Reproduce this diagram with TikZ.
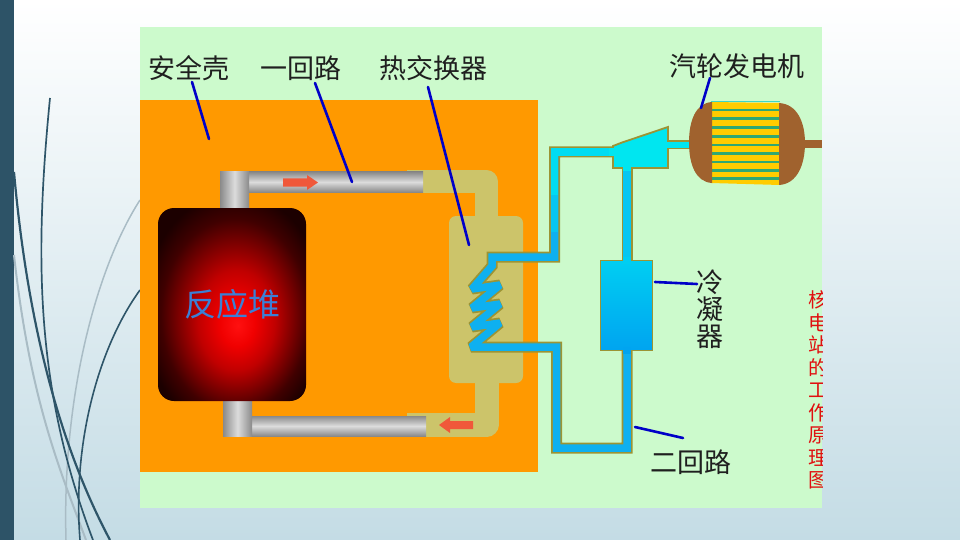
\documentclass[tikz,border=0pt]{standalone}
\usepackage{fontspec}
\newfontfamily\cjk{Noto Sans CJK SC}
\definecolor{slidebar}{HTML}{2D5367}
\definecolor{slidebot}{HTML}{C4DCE5}
\definecolor{curvedark}{HTML}{2E5569}
\definecolor{curvegray}{HTML}{A9BCC5}
\definecolor{bggreen}{HTML}{CCFACC}
\definecolor{shellorange}{HTML}{FF9900}
\definecolor{khaki}{HTML}{CCC46A}
\definecolor{pipeolive}{HTML}{9C9434}
\definecolor{pipeblue}{HTML}{0EB0F0}
\definecolor{pipemid}{HTML}{06C6F1}
\definecolor{pipecyan}{HTML}{00DCF2}
\definecolor{turbcyan}{HTML}{00E6F0}
\definecolor{condtop}{HTML}{00CEF2}
\definecolor{condbot}{HTML}{00A4F0}
\definecolor{greyedge}{HTML}{8A8A8A}
\definecolor{greymid}{HTML}{DCDCDC}
\definecolor{genbrown}{HTML}{A0622E}
\definecolor{genyellow}{HTML}{FFCC00}
\definecolor{genstripe}{HTML}{2FA873}
\definecolor{gentop}{HTML}{3CD6C8}
\definecolor{leader}{HTML}{0000C8}
\definecolor{arrowred}{HTML}{F0583A}
\definecolor{reacttext}{HTML}{3A80D6}
\definecolor{textred}{HTML}{E01010}
\definecolor{rcore}{HTML}{FF1010}
\definecolor{rhot}{HTML}{F00000}
\definecolor{rmid}{HTML}{C00000}
\definecolor{rdeep}{HTML}{800000}
\definecolor{rdark}{HTML}{400000}
\definecolor{rblack}{HTML}{1C0000}
\pgfdeclareradialshading{reactorshade}{\pgfpoint{2bp}{-5.5bp}}{color(0bp)=(rcore); color(6bp)=(rhot); color(13bp)=(rmid); color(19bp)=(rdeep); color(25bp)=(rdark); color(31bp)=(rblack); color(50bp)=(rblack)}
\tikzset{
  lbl/.style={font=\cjk\fontsize{27}{27}\selectfont, inner sep=0pt, text=black!88, align=center},
  redv/.style={font=\cjk\fontsize{20}{22.5}\selectfont, inner sep=0pt, text=textred, align=center},
  leaderline/.style={draw=leader, line width=2.6, line cap=round},
  pipeout/.style={draw=pipeolive, line width=11, miter limit=2},
  pipein/.style={line width=7.5, miter limit=2},
  reactor/.style={shade, shading=reactorshade, rounded corners=16, minimum width=148, minimum height=193, inner sep=0pt, text=reacttext, font=\cjk\fontsize{32}{32}\selectfont},
  condenser/.style={draw=pipeolive, line width=1.8, top color=condtop, bottom color=condbot, minimum width=52, minimum height=90, inner sep=0pt},
  greyh/.style={top color=greyedge, bottom color=greyedge, middle color=greymid},
  greyv/.style={left color=greyedge, right color=greyedge, middle color=greymid},
}
\begin{document}
\begin{tikzpicture}[x=1pt, y=-1pt, line join=miter]
\useasboundingbox (0,0) rectangle (960,540);
% slide background
\shade[top color=white, bottom color=slidebot] (0,0) rectangle (960,540);
\fill[slidebar] (0,0) rectangle (14,540);
\draw[curvegray, line width=1.5] (140,200) .. controls (95,270) and (62,400) .. (66,540);
\draw[curvegray, line width=2] (14,255) .. controls (30,400) and (60,470) .. (86,540);
\draw[curvedark, line width=2.2] (14,172) .. controls (28,330) and (62,450) .. (110,540);
\draw[curvedark, line width=1.7] (50,98) .. controls (34,260) and (36,390) .. (93,540);
\draw[curvedark, line width=1.6] (140,290) .. controls (100,345) and (72,440) .. (80,540);
% picture area
\fill[bggreen] (140,27) rectangle (822,508);
\fill[shellorange] (140,100) rectangle (538,472);
% heat exchanger casing
\draw[khaki, line width=23, line join=round] (407,181.5) -- (486.5,181.5) -- (486.5,225);
\draw[khaki, line width=24, line join=round] (407,424.5) -- (486.5,424.5) -- (486.5,375);
\fill[khaki, rounded corners=7] (449,216) rectangle (523,383);
% primary loop grey pipes
\shade[greyh] (245,172) rectangle (423,192);
\shade[greyv] (220,172) rectangle (249,212);
\shade[greyh] (248,416) rectangle (426,436);
\shade[greyv] (223,397) rectangle (252,436);
% reactor
\node[reactor] (reactor) at (232,304.5) {反应堆};
% flow arrows
\fill[arrowred] (283,178.5) -- (307,178.5) -- (307,175) -- (318,182.5) -- (307,190) -- (307,186.5) -- (283,186.5) -- cycle;
\fill[arrowred] (473,421) -- (450,421) -- (450,417) -- (439,425) -- (450,433) -- (450,429) -- (473,429) -- cycle;
% secondary loop: outer (olive) strokes
\draw[pipeout] (616,152) -- (554.5,152) -- (554.5,257) -- (492,257) -- (492,266) -- (472,289) -- (500,285) -- (472,308) -- (500,304) -- (472,327) -- (500,323) -- (471,347) -- (556.5,347) -- (556.5,448) -- (627,448) -- (627,349);
\draw[pipeout] (627,166) -- (627,262);
\draw[draw=pipeolive, line width=9] (666,145) -- (692,145);
% inner strokes
\draw[pipein, draw=pipeblue] (616,152) -- (554.5,152) -- (554.5,257) -- (492,257) -- (492,266) -- (472,289) -- (500,285) -- (472,308) -- (500,304) -- (472,327) -- (500,323) -- (471,347) -- (556.5,347) -- (556.5,448) -- (627,448) -- (627,349);
\draw[pipein, draw=pipecyan] (616,152) -- (554.5,152) -- (554.5,195);
\draw[pipein, draw=pipemid] (554.5,195) -- (554.5,232);
\draw[pipein, draw=pipemid] (627,166) -- (627,262);
\draw[draw=turbcyan, line width=5.5] (666,145) -- (692,145);
% turbine
\filldraw[fill=turbcyan, draw=pipeolive, line width=1.8] (613,146) -- (622,142.5) -- (668,127) -- (668,168) -- (613,168) -- cycle;
% condenser
\node[condenser] (cond) at (626.5,305.5) {};
% junction patches
\draw[draw=turbcyan, line width=7.5] (609,152) -- (617,152);
\draw[draw=turbcyan, line width=7.5] (627,163) -- (627,171);
\draw[draw=turbcyan, line width=5.5] (665,145) -- (671,145);
\draw[draw=condtop, line width=7.5] (627,257) -- (627,264);
\draw[draw=condbot, line width=7.5] (627,347) -- (627,354);
% generator
\fill[genyellow] (711,102) -- (780,103) -- (780,185) -- (711,183) -- cycle;
\draw[gentop, line width=1.5] (711,101.5) -- (780,101.5);
\foreach \yy in {110,118.5,127.5,136.5,145,153.5,162,170.5,178.5}
  \draw[genstripe, line width=2.2] (711,\yy) -- (780,\yy);
\fill[genbrown] (712,102) .. controls (696,103) and (689,120) .. (689,142.5) .. controls (689,165) and (696,182) .. (712,183) -- cycle;
\fill[genbrown] (779,103) .. controls (797,104) and (805,122) .. (805,143) .. controls (805,165) and (797,184) .. (779,185) -- cycle;
\fill[genbrown] (803,140) rectangle (822,148);
% labels
\node[lbl] (lshell) at (189,68) {安全壳};
\node[lbl] (lloop1) at (301,68) {一回路};
\node[lbl] (lhx) at (433,68) {热交换器};
\node[lbl] (lgen) at (737,66) {汽轮发电机};
\node[lbl] (lcond) at (710,309) {冷\\凝\\器};
\node[lbl] (lloop2) at (691,462) {二回路};
\begin{scope}
\clip (140,27) rectangle (822,508);
\node[redv] (title) at (818,390) {核\\电\\站\\的\\工\\作\\原\\理\\图};
\end{scope}
% leader lines
\coordinate (s1) at (192,82);  \coordinate (e1) at (209,139);
\coordinate (s2) at (315,83);  \coordinate (e2) at (352,182);
\coordinate (s3) at (428,87);  \coordinate (e3) at (469,245);
\coordinate (s4) at (710,78);  \coordinate (e4) at (701,108);
\coordinate (s5) at (697,284); \coordinate (e5) at (655,282);
\coordinate (s6) at (683,438); \coordinate (e6) at (635,427);
\draw[leaderline] (s1) -- (e1);
\draw[leaderline] (s2) -- (e2);
\draw[leaderline] (s3) -- (e3);
\draw[leaderline] (s4) -- (e4);
\draw[leaderline] (s5) -- (e5);
\draw[leaderline] (s6) -- (e6);
\end{tikzpicture}
\end{document}
